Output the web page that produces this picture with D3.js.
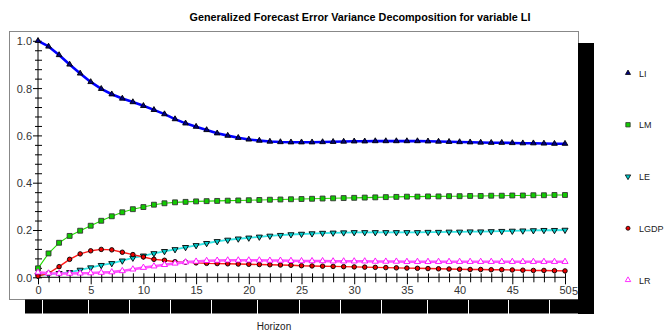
<!DOCTYPE html>
<html>
<head>
<meta charset="utf-8">
<script src="https://cdn.jsdelivr.net/npm/d3@7"></script>
<style>
  body { margin: 0; background: #fff; }
  svg { display: block; font-family: "Liberation Sans", Arial, sans-serif; }
</style>
</head>
<body>
<div id="chart"></div>
<script>
// forecast horizons 0..50
var horizon = d3.range(0, 51);

var LI = [1.0, 0.976, 0.94, 0.90, 0.862, 0.826, 0.797, 0.774, 0.756, 0.741,
  0.725, 0.708, 0.69, 0.669, 0.651, 0.637, 0.623, 0.609, 0.599, 0.59,
  0.583, 0.578, 0.574, 0.572, 0.571, 0.571, 0.571, 0.572, 0.573, 0.574,
  0.575, 0.575, 0.576, 0.576, 0.576, 0.576, 0.576, 0.575, 0.574, 0.573,
  0.572, 0.571, 0.570, 0.569, 0.569, 0.568, 0.567, 0.567, 0.566, 0.565, 0.565];
var LM = [0.038, 0.101, 0.146, 0.175, 0.197, 0.218, 0.239, 0.258, 0.275, 0.288,
  0.297, 0.307, 0.313, 0.317, 0.319, 0.321, 0.322, 0.323, 0.324, 0.325,
  0.326, 0.327, 0.328, 0.329, 0.330, 0.331, 0.332, 0.333, 0.334, 0.335,
  0.336, 0.337, 0.338, 0.339, 0.340, 0.341, 0.341, 0.342, 0.342, 0.343,
  0.343, 0.344, 0.344, 0.345, 0.345, 0.346, 0.346, 0.347, 0.347, 0.348, 0.348];
var LE = [0.008, 0.013, 0.017, 0.021, 0.031, 0.041, 0.051, 0.059, 0.07, 0.082,
  0.091, 0.101, 0.11, 0.118, 0.127, 0.135, 0.144, 0.152, 0.158, 0.163,
  0.167, 0.171, 0.175, 0.178, 0.181, 0.183, 0.185, 0.187, 0.188, 0.189,
  0.19, 0.19, 0.19, 0.19, 0.19, 0.19, 0.19, 0.191, 0.191, 0.192,
  0.192, 0.193, 0.193, 0.194, 0.195, 0.196, 0.197, 0.198, 0.199, 0.199, 0.2];
var LGDP = [0.005, 0.017, 0.045, 0.076, 0.099, 0.112, 0.118, 0.116, 0.106, 0.096,
  0.086, 0.076, 0.072, 0.066, 0.064, 0.061, 0.059, 0.058, 0.057, 0.056,
  0.055, 0.054, 0.053, 0.052, 0.051, 0.049, 0.048, 0.047, 0.046, 0.045,
  0.044, 0.043, 0.042, 0.041, 0.040, 0.039, 0.038, 0.037, 0.036, 0.035,
  0.034, 0.033, 0.033, 0.032, 0.032, 0.031, 0.030, 0.029, 0.029, 0.028, 0.027];
var LR = [0.021, 0.017, 0.016, 0.016, 0.017, 0.018, 0.02, 0.022, 0.027, 0.034,
  0.041, 0.047, 0.053, 0.059, 0.064, 0.067, 0.07, 0.071, 0.072, 0.072,
  0.072, 0.072, 0.071, 0.071, 0.070, 0.069, 0.069, 0.069, 0.068, 0.068,
  0.068, 0.068, 0.067, 0.067, 0.067, 0.066, 0.066, 0.066, 0.066, 0.066,
  0.066, 0.066, 0.066, 0.066, 0.066, 0.066, 0.066, 0.066, 0.066, 0.066, 0.066];

var seriesNames = ['LI', 'LM', 'LE', 'LGDP', 'LR'];
var xTicks = [0, 5, 10, 15, 20, 25, 30, 35, 40, 45, 50];
var yTicks = [0.0, 0.2, 0.4, 0.6, 0.8, 1.0];

var series = [
  { name: 'LI', values: LI, line: '#0000ff', lw: 2.6, sym: d3.symbolTriangle, size: 14, fill: '#000080', stroke: '#000' },
  { name: 'LM', values: LM, line: '#22dd00', lw: 1.1, sym: d3.symbolSquare, size: 24, fill: '#11cc00', stroke: '#333' },
  { name: 'LE', values: LE, line: '#33e6e6', lw: 1.8, sym: 'down', size: 16, fill: '#00cccc', stroke: '#000' },
  { name: 'LGDP', values: LGDP, line: '#ff1a1a', lw: 1.4, sym: d3.symbolCircle, size: 16, fill: '#ee0000', stroke: '#000' },
  { name: 'LR', values: LR, line: '#ff55ff', lw: 2.6, sym: d3.symbolTriangle, size: 16, fill: '#fff', stroke: '#ff00ff' }
];

var W = 672, H = 332;
var svg = d3.select('#chart').append('svg').attr('width', W).attr('height', H);

var x = d3.scaleLinear().domain([0, 50]).range([38, 565]);
var y = d3.scaleLinear().domain([0, 1]).range([277.3, 40.8]);

// title
svg.append('text')
  .attr('x', 360).attr('y', 21)
  .attr('text-anchor', 'middle')
  .style('font-size', '10.8px').style('font-weight', 'bold')
  .text('Generalized Forecast Error Variance Decomposition for variable LI');

// frame
svg.append('rect')
  .attr('x', 9.5).attr('y', 31.5).attr('width', 569).attr('height', 268)
  .attr('fill', '#fff').attr('stroke', '#888');

// y axis, minor ticks every 0.04
var yAxis = d3.axisLeft(y)
  .tickValues(d3.range(0, 26).map(function(i) { return i * 0.04; }))
  .tickFormat(function(d) {
    var hit = yTicks.find(function(t) { return Math.abs(t - d) < 1e-6; });
    return hit === undefined ? '' : d3.format('.1f')(hit);
  });
var gy = svg.append('g').attr('transform', 'translate(38,0)').call(yAxis);
gy.select('.domain').attr('d', 'M0,' + y(0) + 'V' + (y(1) - 2.5)).attr('stroke', '#000');
gy.selectAll('.tick').each(function(d) {
  var major = yTicks.some(function(t) { return Math.abs(t - d) < 1e-6; });
  d3.select(this).select('line').attr('x1', major ? -5 : -3).attr('x2', 4).attr('stroke', '#000');
  d3.select(this).select('text').attr('x', -6).attr('dy', '0.36em')
    .style('font-size', '11px').attr('fill', '#333');
});
gy.selectAll('text').attr('font-family', null);

// x axis, minor tick every step
var xAxis = d3.axisBottom(x)
  .tickValues(horizon)
  .tickFormat(function(d) { return xTicks.indexOf(d) >= 0 ? d : ''; });
var gx = svg.append('g').attr('transform', 'translate(0,' + y(0) + ')').call(xAxis);
gx.select('.domain').attr('d', 'M' + x(0) + ',0H' + x(50)).attr('stroke', '#000');
gx.selectAll('.tick').each(function(d) {
  var major = xTicks.indexOf(d) >= 0;
  d3.select(this).select('line').attr('y1', -4).attr('y2', major ? 7 : 5).attr('stroke', '#000');
  d3.select(this).select('text').attr('y', 9).attr('dy', '0.71em')
    .style('font-size', '11px').attr('fill', '#333');
});
gx.selectAll('text').attr('font-family', null);
// stray clipped label to the right of 50
svg.append('text').attr('x', x(50) + 7).attr('y', 294.5)
  .style('font-size', '11px').attr('fill', '#333').text('5');

var line = d3.line().x(function(d, i) { return x(horizon[i]); }).y(function(d) { return y(d); });

function symPath(s, sz) {
  if (s === 'down') {
    return d3.symbol().type(d3.symbolTriangle).size(sz)();
  }
  return d3.symbol().type(s).size(sz)();
}

series.forEach(function(s) {
  var g = svg.append('g');
  g.append('path').datum(s.values)
    .attr('d', line).attr('fill', 'none')
    .attr('stroke', s.line).attr('stroke-width', s.lw)
    .attr('stroke-linejoin', 'round');
  g.selectAll('path.mk').data(s.values).enter().append('path')
    .attr('class', 'mk')
    .attr('d', symPath(s.sym, s.size))
    .attr('transform', function(d, i) {
      return 'translate(' + x(horizon[i]) + ',' + y(d) + ')' + (s.sym === 'down' ? ' rotate(180)' : '');
    })
    .attr('fill', s.fill).attr('stroke', s.stroke).attr('stroke-width', 0.9);
});

// drop shadow bars
svg.append('rect').attr('x', 578).attr('y', 43).attr('width', 16).attr('height', 271).attr('fill', '#000');
svg.append('rect').attr('x', 25).attr('y', 299.5).attr('width', 569).attr('height', 14).attr('fill', '#000');
[42, 88, 129, 170, 211, 257, 299, 340, 381, 427, 468, 508, 549].forEach(function(px) {
  svg.append('line').attr('x1', px + 0.5).attr('x2', px + 0.5).attr('y1', 300).attr('y2', 314)
    .attr('stroke', '#fff').attr('stroke-width', 1);
});

svg.append('text').attr('x', 274).attr('y', 329.5).attr('text-anchor', 'middle')
  .style('font-size', '10px').attr('fill', '#222').text('Horizon');

// legend
var legY = d3.scalePoint().domain(seriesNames).range([73, 280]);
var leg = svg.append('g');
series.forEach(function(s) {
  var ly = legY(s.name);
  leg.append('path')
    .attr('d', symPath(s.sym, s.size * 0.8))
    .attr('transform', 'translate(628,' + ly + ')' + (s.sym === 'down' ? ' rotate(180)' : ''))
    .attr('fill', s.fill).attr('stroke', s.stroke).attr('stroke-width', 0.8);
  leg.append('text').attr('x', 639).attr('y', ly + 3.5)
    .style('font-size', '9px').attr('fill', '#222').text(s.name);
});
</script>
</body>
</html>
